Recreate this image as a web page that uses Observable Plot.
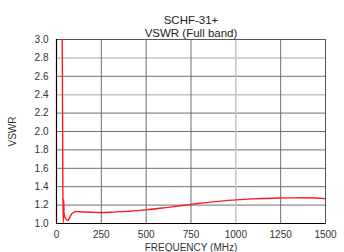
<!DOCTYPE html>
<html><head><meta charset="utf-8">
<script src="https://cdn.jsdelivr.net/npm/d3@7"></script>
<script src="https://cdn.jsdelivr.net/npm/@observablehq/plot@0.6"></script>
<style>body{margin:0;background:#fff;font-family:"Liberation Sans",Arial,sans-serif}</style>
</head><body><div id="c"></div>
<script>
const freq = [31, 33, 35, 37, 39, 40, 42, 45, 50, 55, 60, 65, 70, 80, 90, 100, 110, 125, 150, 200, 250, 300, 400, 500, 600, 700, 750, 800, 900, 1000, 1100, 1200, 1250, 1300, 1375, 1450, 1500];
const vswr = [3.6, 2.6, 1.6, 1.01, 1.1, 1.26, 1.12, 1.08, 1.06, 1.045, 1.035, 1.035, 1.05, 1.09, 1.115, 1.125, 1.13, 1.128, 1.125, 1.122, 1.12, 1.122, 1.133, 1.148, 1.17, 1.195, 1.207, 1.22, 1.24, 1.257, 1.268, 1.275, 1.277, 1.279, 1.28, 1.277, 1.27];
const xTicks = [0, 250, 500, 750, 1000, 1250, 1500];
const yTicks = [1.0, 1.2, 1.4, 1.6, 1.8, 2.0, 2.2, 2.4, 2.6, 2.8, 3.0];
const lightY = [2.4, 2.8];
const lightX = [1000];
const titles = ["SCHF-31+", "VSWR (Full band)"];
const data = freq.map((f, i) => ({f, v: vswr[i]}));

const chart = Plot.plot({
  width: 344, height: 252,
  marginTop: 39, marginBottom: 29, marginLeft: 56, marginRight: 19,
  style: {fontFamily: "Liberation Sans, Arial, sans-serif", fontSize: "10px", color: "#333"},
  x: {domain: [0, 1500], ticks: xTicks, tickSize: 0, tickPadding: 7, tickFormat: d => String(d), label: "FREQUENCY (MHz)", labelAnchor: "center", labelOffset: 27, labelArrow: "none"},
  y: {domain: [1, 3], ticks: yTicks, tickSize: 0, tickPadding: 8, tickFormat: d3.format(".1f"), label: "VSWR", labelAnchor: "center", labelOffset: 48, labelArrow: "none"},
  marks: [
    Plot.ruleY(yTicks.filter(d => !lightY.includes(d)), {stroke: "#6e6e6e", strokeWidth: 1}),
    Plot.ruleY(lightY, {stroke: "#c4c4c4", strokeWidth: 1.5}),
    Plot.ruleX(xTicks.filter(d => !lightX.includes(d)), {stroke: "#6e6e6e", strokeWidth: 1}),
    Plot.ruleX(lightX, {stroke: "#c4c4c4", strokeWidth: 1.5}),
    Plot.frame({stroke: "#555"}),
    Plot.ruleX([0], {stroke: "#000", strokeWidth: 1.2}),
    Plot.ruleY([1], {stroke: "#000", strokeWidth: 1.2}),
    Plot.line(data, {x: "f", y: "v", stroke: "#ff1a1a", strokeWidth: 1.4, curve: "monotone-x", clip: true}),
    Plot.text([titles[0]], {frameAnchor: "top", dy: -24, fontSize: 11.5, fill: "#222", text: d => d}),
    Plot.text([titles[1]], {frameAnchor: "top", dy: -11, fontSize: 11.5, fill: "#222", text: d => d})
  ]
});
document.getElementById("c").append(chart);
</script></body></html>
